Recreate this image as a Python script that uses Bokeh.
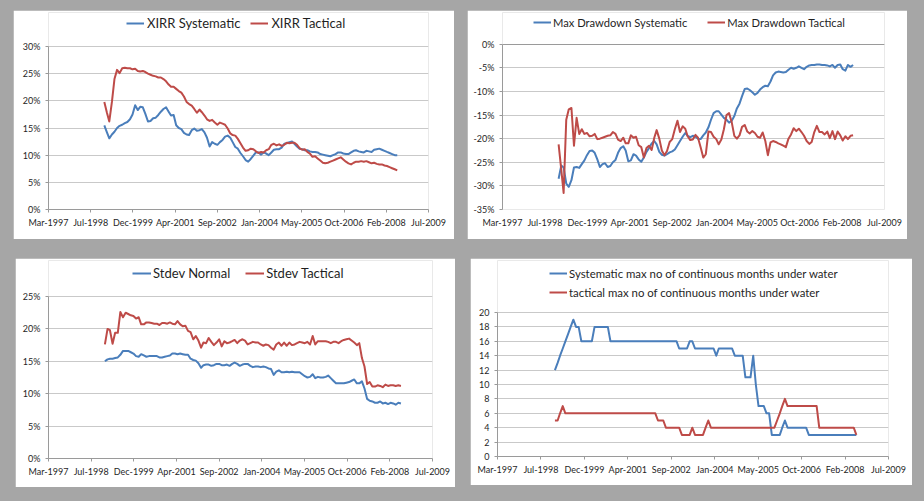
import pandas as pd
from bokeh.plotting import figure
from bokeh.models import Range1d, FixedTicker, Legend, LegendItem, PrintfTickFormatter, Grid
from bokeh.layouts import row, column
from bokeh.embed import file_html
from bokeh.resources import INLINE

# ---------------- data ----------------
FIRST_MONTH = "1999-01-01"          # monthly observations start here
X_TICK_SERIALS = [35500, 36000, 36500, 37000, 37500, 38000, 38500, 39000, 39500, 40000]
X_TICK_LABELS = ["Mar-1997", "Jul-1998", "Dec-1999", "Apr-2001", "Sep-2002",
                 "Jan-2004", "May-2005", "Oct-2006", "Feb-2008", "Jul-2009"]

xirr_systematic = [
    15.5, 14.2, 13.1, 13.8, 14.3, 15.0, 15.4, 15.6, 15.9, 16.1,
    16.6, 17.5, 19.2, 18.3, 18.9, 18.8, 17.6, 16.2, 16.3, 16.8,
    16.9, 17.4, 18.0, 18.5, 18.8, 18.0, 17.3, 17.4, 15.5, 15.0,
    14.8, 14.1, 13.8, 13.7, 14.6, 14.9, 14.5, 14.6, 14.8, 14.2,
    13.2, 11.6, 12.4, 12.1, 11.9, 12.4, 12.8, 13.4, 13.6, 13.2,
    12.4, 11.5, 11.2, 10.4, 9.8, 9.1, 8.8, 9.3, 9.9, 10.5,
    10.5, 10.1, 10.5, 10.3, 10.0, 10.5, 11.0, 11.1, 11.1, 11.4,
    12.1, 12.2, 12.4, 12.5, 12.1, 11.6, 11.2, 11.1, 10.9, 10.9,
    10.7, 10.6, 10.6, 10.5, 10.2, 10.1, 10.0, 9.9, 9.8, 10.0,
    10.2, 10.5, 10.5, 10.3, 10.2, 10.2, 10.5, 10.8, 10.9, 10.7,
    10.6, 10.5, 10.8, 10.7, 10.6, 11.0, 11.1, 11.2, 11.0, 10.8,
    10.6, 10.4, 10.2, 10.0, 10.0]
xirr_tactical = [
    19.8, 17.8, 16.2, 19.8, 24.0, 25.7, 25.1, 26.0, 26.1, 26.0,
    26.0, 25.8, 25.9, 25.5, 25.4, 25.5, 25.3, 25.0, 24.8, 24.6,
    24.5, 24.3, 24.3, 24.0, 23.6, 23.0, 22.6, 22.6, 22.2, 21.8,
    21.5, 20.8, 19.8, 19.4, 19.1, 18.5, 17.8, 18.4, 17.9, 17.3,
    16.6, 16.3, 16.5, 16.0, 15.6, 16.0, 15.8, 15.6, 14.9, 14.0,
    13.7, 13.6, 13.0, 12.2, 11.4, 10.8, 10.9, 11.2, 11.1, 10.7,
    10.4, 10.6, 10.5, 10.9, 11.1, 11.9, 12.1, 11.8, 12.0, 11.7,
    11.9, 12.3, 12.2, 12.3, 12.3, 11.9, 11.3, 11.0, 11.1, 10.6,
    10.3, 9.7, 9.8, 9.4, 9.0, 8.6, 8.5, 8.6, 8.8, 9.0,
    9.2, 9.4, 9.6, 9.2, 8.8, 8.5, 8.3, 8.6, 8.8, 8.8,
    8.9, 8.8, 8.9, 8.7, 8.5, 8.6, 8.4, 8.3, 8.3, 8.1,
    8.0, 7.8, 7.6, 7.4, 7.2]

dd_systematic = [
    -28.5, -25.7, -26.1, -29.5, -30.2, -28.8, -26.1, -26.0, -26.2, -25.4,
    -24.6, -23.5, -22.6, -22.5, -23.0, -24.4, -26.0, -25.4, -25.2, -26.0,
    -25.8, -25.0, -24.5, -23.0, -22.0, -21.6, -22.5, -24.8, -24.6, -23.3,
    -23.6, -24.4, -24.9, -24.0, -22.8, -22.0, -21.0, -20.5, -21.2, -22.8,
    -23.4, -23.6, -23.3, -22.9, -22.7, -22.3, -21.4, -20.5, -19.6, -18.8,
    -19.4, -19.7, -19.4, -19.6, -20.0, -20.1, -19.3, -18.7, -17.6, -16.0,
    -14.6, -14.2, -14.2, -14.9, -15.6, -16.0, -16.6, -16.2, -15.2, -13.6,
    -12.6, -11.0, -9.5, -9.4, -9.7, -10.2, -10.7, -10.3, -9.6, -9.1,
    -8.8, -8.9, -7.9, -6.6, -6.0, -5.8, -5.9, -6.0, -5.9, -5.4,
    -5.0, -5.2, -5.0, -4.7, -5.0, -5.3, -4.8, -4.5, -4.4, -4.4,
    -4.3, -4.3, -4.4, -4.4, -4.5, -4.7, -4.4, -5.0, -4.4, -4.3,
    -5.3, -5.6, -4.4, -4.8, -4.4]
dd_tactical = [
    -21.2, -26.5, -31.5, -16.0, -13.8, -13.5, -21.5, -15.6, -19.0, -18.0,
    -19.0, -18.8, -19.5, -19.4, -19.0, -20.1, -20.0, -19.8, -19.6, -19.4,
    -19.3, -18.6, -19.0, -20.2, -20.5, -19.8, -21.0, -21.0, -19.3, -19.8,
    -19.6, -21.4, -21.8, -24.0, -22.0, -21.5, -22.4, -19.8, -18.2, -20.0,
    -22.5, -23.5, -22.6, -20.7, -20.1, -18.0, -16.2, -18.6, -17.4, -17.9,
    -19.5, -20.3, -20.2, -19.2, -19.8, -21.8, -24.0, -23.3, -18.5, -18.6,
    -19.6, -20.1, -21.2, -20.2, -18.0, -15.0, -14.6, -16.5, -19.4, -20.0,
    -19.3, -17.5, -17.1, -18.5, -18.9, -18.4, -18.8, -19.6, -19.8, -18.7,
    -20.5, -23.5, -20.8, -20.5, -20.7, -21.0, -21.2, -21.5, -21.8, -20.0,
    -19.1, -17.8, -18.4, -17.9, -18.6, -19.4, -20.5, -21.1, -20.7, -18.6,
    -17.3, -18.6, -18.6, -19.1, -18.5, -19.9, -18.4, -20.1, -18.5, -19.3,
    -20.4, -19.5, -20.1, -19.4, -19.3]

stdev_normal = [
    15.0, 15.3, 15.4, 15.4, 15.5, 15.6, 16.0, 16.6, 16.6, 16.6,
    16.4, 16.2, 15.8, 15.7, 16.1, 15.9, 15.7, 15.8, 15.8, 15.8,
    15.8, 15.6, 15.6, 15.7, 15.8, 15.9, 16.2, 16.2, 16.1, 16.2,
    16.1, 16.0, 16.0, 15.4, 15.2, 15.1, 14.7, 14.0, 14.4, 14.5,
    14.5, 14.3, 14.4, 14.6, 14.6, 14.4, 14.4, 14.5, 14.3, 14.6,
    14.8, 14.6, 14.3, 14.5, 14.6, 14.6, 14.3, 14.1, 14.2, 14.2,
    14.1, 14.2, 14.1, 13.9, 13.8, 12.9, 13.4, 13.6, 13.3, 13.3,
    13.4, 13.3, 13.4, 13.3, 13.3, 13.3, 13.0, 12.7, 12.5, 12.6,
    13.0, 12.4, 12.6, 12.5, 12.5, 12.6, 12.8, 12.4, 12.0, 11.6,
    11.6, 11.6, 11.6, 11.7, 11.8, 12.0, 12.2, 11.6, 11.6, 11.9,
    10.8, 9.2, 8.9, 8.8, 8.6, 8.6, 8.8, 8.5, 8.6, 8.4,
    8.6, 8.5, 8.3, 8.6, 8.5]
stdev_tactical = [
    17.6, 20.0, 19.8, 17.7, 19.4, 19.4, 22.6, 21.8, 22.5, 22.3,
    22.1, 22.0, 21.6, 21.8, 20.7, 20.7, 21.0, 21.0, 20.9, 20.8,
    20.8, 20.6, 20.9, 20.9, 20.8, 21.0, 20.8, 20.7, 21.2, 20.7,
    20.4, 20.5, 19.7, 19.5, 18.4, 18.9, 18.2, 17.1, 17.9, 17.8,
    18.6, 18.0, 17.5, 17.9, 18.4, 17.3, 18.1, 17.8, 17.9, 18.1,
    18.3, 17.8, 18.2, 18.4, 18.2, 17.6, 17.8, 18.0, 17.9, 17.9,
    17.6, 17.4, 17.6, 17.5, 17.1, 16.8, 17.6, 17.9, 17.4, 17.9,
    17.4, 17.9, 17.5, 17.6, 17.8, 18.0, 17.9, 17.8, 18.0, 17.6,
    18.9, 17.6, 18.1, 18.1, 18.1, 18.1, 18.0, 17.8, 18.0, 18.0,
    17.8, 18.1, 18.3, 18.4, 18.5, 18.2, 17.9, 17.5, 17.8, 15.5,
    14.2, 11.5, 11.8, 11.1, 11.1, 11.3, 11.2, 11.0, 11.4, 11.2,
    11.3, 11.3, 11.2, 11.3, 11.2]

months_uw_systematic = [
    12, 13, 14, 15, 16, 17, 18, 19, 18, 18,
    16, 16, 16, 16, 16, 18, 18, 18, 18, 18,
    18, 16, 16, 16, 16, 16, 16, 16, 16, 16,
    16, 16, 16, 16, 16, 16, 16, 16, 16, 16,
    16, 16, 16, 16, 16, 16, 16, 15, 15, 15,
    15, 16, 16, 15, 15, 15, 15, 15, 15, 15,
    15, 14, 15, 15, 15, 15, 15, 15, 14, 14,
    14, 14, 11, 11, 11, 14, 10, 7, 7, 7,
    6, 6, 3, 3, 3, 3, 4, 5, 4, 4,
    4, 4, 4, 4, 4, 4, 3, 3, 3, 3,
    3, 3, 3, 3, 3, 3, 3, 3, 3, 3,
    3, 3, 3, 3, 3]
months_uw_tactical = [
    5, 5, 6, 7, 6, 6, 6, 6, 6, 6,
    6, 6, 6, 6, 6, 6, 6, 6, 6, 6,
    6, 6, 6, 6, 6, 6, 6, 6, 6, 6,
    6, 6, 6, 6, 6, 6, 6, 6, 6, 5,
    5, 5, 4, 4, 4, 4, 4, 4, 3, 3,
    3, 3, 4, 3, 3, 3, 3, 4, 5, 4,
    4, 4, 4, 4, 4, 4, 4, 4, 4, 4,
    4, 4, 4, 4, 4, 4, 4, 4, 4, 4,
    4, 4, 4, 4, 5, 6, 7, 8, 7, 7,
    7, 7, 7, 7, 7, 7, 7, 7, 7, 7,
    4, 4, 4, 4, 4, 4, 4, 4, 4, 4,
    4, 4, 4, 4, 3]

# ---------------- style ----------------
BG = "#a6a6a6"
BLUE = "#4A7EBB"
RED = "#BE4B48"
GRID = "#c9c9c9"
AXIS = "#9a9a9a"
TEXT = "#1f1f1f"
FONT = "Lato"
TICK_FS = "9px"
FRAME_TOP = 2   # the plotting frame starts just below the panel top so the legend fits inside it


def month_serials(n):
    months = pd.date_range(FIRST_MONTH, periods=n, freq="MS")
    base = pd.Timestamp("1899-12-30")
    return [(m - base).days for m in months]


def make_panel(w, h, borders, y_lo, y_hi, y_step, pct, series, leg, x_axis_top=False):
    left, right, top, bottom = borders
    # extend the y range upward so that the value axis ends `top` px below the panel top
    plot_px = h - bottom - top
    y_end = y_hi + (top - FRAME_TOP) * (y_hi - y_lo) / plot_px
    p = figure(width=w, height=h, output_backend="svg", toolbar_location=None, title=None,
               x_range=Range1d(X_TICK_SERIALS[0], X_TICK_SERIALS[-1]),
               y_range=Range1d(y_lo, y_end),
               min_border_left=left, min_border_right=right,
               min_border_top=FRAME_TOP, min_border_bottom=bottom,
               background_fill_color="white", border_fill_color="white")
    p.outline_line_color = None
    p.xgrid.visible = False
    yticks = list(range(y_lo, y_hi + 1, y_step))
    yt = FixedTicker(ticks=yticks)
    p.yaxis.ticker = yt
    p.ygrid.ticker = yt
    p.ygrid.grid_line_color = GRID
    p.ygrid.grid_line_width = 1

    ya = p.yaxis[0]
    ya.bounds = (y_lo, y_hi)
    if pct:
        ya.formatter = PrintfTickFormatter(format="%d%%")
    ya.axis_line_color = AXIS
    ya.major_tick_line_color = AXIS
    ya.major_tick_out = 3
    ya.major_tick_in = 0
    ya.minor_tick_line_color = None
    ya.major_label_standoff = 5
    ya.major_label_text_font = FONT
    ya.major_label_text_font_size = TICK_FS
    ya.major_label_text_color = TEXT

    xa = p.xaxis[0]
    xa.ticker = FixedTicker(ticks=X_TICK_SERIALS)
    xa.major_label_overrides = dict(zip(X_TICK_SERIALS, X_TICK_LABELS))
    xa.minor_tick_line_color = None
    xa.major_label_text_font = FONT
    xa.major_label_text_font_size = TICK_FS
    xa.major_label_text_color = TEXT
    xa.major_label_standoff = 4
    xa.major_tick_in = 0
    xa.major_tick_out = 3
    if x_axis_top:
        # horizontal axis crosses at the top value (0); labels stay at the bottom
        xa.axis_line_color = None
        xa.major_tick_line_color = None
        cross = Grid(dimension=1, ticker=FixedTicker(ticks=[y_hi]),
                     grid_line_color=AXIS, grid_line_width=1)
        p.add_layout(cross)
    else:
        xa.axis_line_color = AXIS
        xa.major_tick_line_color = AXIS

    items = []
    for name, vals, color in series:
        xs = month_serials(len(vals))
        r = p.line(xs, vals, line_color=color, line_width=2, line_join="round")
        items.append(LegendItem(label=name, renderers=[r]))

    legend = Legend(items=items, location=leg["loc"], orientation=leg["orient"],
                    padding=0, margin=0, spacing=leg["spacing"],
                    glyph_width=leg["gw"], glyph_height=14, label_height=14,
                    label_standoff=leg["standoff"],
                    label_text_font=FONT, label_text_font_size=leg["fs"],
                    label_text_color=TEXT,
                    background_fill_alpha=0, border_line_alpha=0)
    p.add_layout(legend)
    return p


p1 = make_panel(441, 229, (35, 26, 36, 30), 0, 30, 5, True,
                [("XIRR Systematic", xirr_systematic, BLUE),
                 ("XIRR Tactical", xirr_tactical, RED)],
                dict(loc=(78, 178), orient="horizontal", spacing=10, gw=18,
                     standoff=3, fs="13px"))
p2 = make_panel(440, 229, (35, 23, 34, 28), -35, 0, 5, True,
                [("Max Drawdown Systematic", dd_systematic, BLUE),
                 ("Max Drawdown Tactical", dd_tactical, RED)],
                dict(loc=(31, 180), orient="horizontal", spacing=20, gw=18,
                     standoff=2, fs="11.2px"),
                x_axis_top=True)
p3 = make_panel(440, 229, (33, 23, 38, 29), 0, 25, 5, True,
                [("Stdev Normal", stdev_normal, BLUE),
                 ("Stdev Tactical", stdev_tactical, RED)],
                dict(loc=(84, 177), orient="horizontal", spacing=15, gw=19,
                     standoff=2, fs="13px"))
p4 = make_panel(442, 227, (27, 24, 54, 29), 0, 20, 2, False,
                [("Systematic max no of continuous months under water", months_uw_systematic, BLUE),
                 ("tactical max no of continuous months under water", months_uw_tactical, RED)],
                dict(loc=(52, 157), orient="vertical", spacing=5, gw=18,
                     standoff=2, fs="11.4px"))

p1.margin = (10, 0, 0, 13)
p2.margin = (10, 0, 0, 13)
p3.margin = (19, 0, 0, 15)
p4.margin = (19, 0, 0, 15)

layout = column(row(p1, p2), row(p3, p4), width=924, height=501,
                styles={"background-color": BG})

open("out.html", "w").write(file_html(layout, INLINE))
